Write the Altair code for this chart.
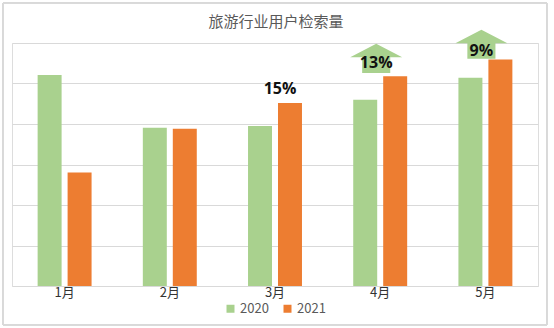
import altair as alt
import pandas as pd

months = ["1月", "2月", "3月", "4月", "5月"]
v2020 = [5.21, 3.91, 3.95, 4.60, 5.14]
v2021 = [2.80, 3.88, 4.52, 5.18, 5.59]
series = ["2020", "2021"]
colors = ["#A9D18E", "#ED7D31"]
title_text = ["旅游行业用户检索量"]

plain_months = ["3月"]
plain_labels = ["15%"]
plain_y = [4.86]

arrow_months = ["4月", "5月"]
arrow_labels = ["13%", "9%"]
arrow_y = [5.62, 5.97]
arrow_text_y = [5.50, 5.81]

rows = []
for m, a, b in zip(months, v2020, v2021):
    rows.append({"month": m, "series": series[0], "value": a})
    rows.append({"month": m, "series": series[1], "value": b})
bars_df = pd.DataFrame(rows)
plain_df = pd.DataFrame({"month": plain_months, "label": plain_labels, "y": plain_y})
arrow_df = pd.DataFrame({"month": arrow_months, "label": arrow_labels, "y": arrow_y, "ty": arrow_text_y})
title_df = pd.DataFrame({"t": title_text})

FONT = "Noto Sans CJK SC"
W, H = 526, 243
STEP = W / 5

xenc = alt.X("month:N", sort=months, scale=alt.Scale(paddingInner=0, paddingOuter=0),
             axis=alt.Axis(title=None, labelAngle=0, domain=False, ticks=False,
                           labelFontSize=13, labelColor="#333333", labelFont=FONT,
                           labelPadding=0, grid=False))
yscale = alt.Scale(domain=[0, 6], nice=False)

border = alt.Chart(bars_df).mark_rect(fill=None, stroke="#D9D9D9", strokeWidth=1).encode(
    x=alt.value(-9), x2=alt.value(535), y=alt.value(-40), y2=alt.value(282)
)

title = alt.Chart(title_df).mark_text(font=FONT, fontSize=15, color="#595959",
                                      align="center", baseline="middle").encode(
    x=alt.value(W / 2 + 1), y=alt.value(-21), text="t:N"
)

bars = alt.Chart(bars_df).mark_bar().encode(
    x=xenc,
    xOffset=alt.XOffset("series:N", scale=alt.Scale(paddingInner=0.2, paddingOuter=0.855)),
    y=alt.Y("value:Q", scale=yscale,
            axis=alt.Axis(title=None, labels=False, ticks=False, domain=False,
                          values=[0, 1, 2, 3, 4, 5, 6], grid=True,
                          gridColor="#D9D9D9", gridWidth=1)),
    color=alt.Color("series:N", scale=alt.Scale(domain=series, range=colors),
                    legend=alt.Legend(title=None, orient="none", direction="horizontal",
                                      legendX=212, legendY=259, symbolType="square",
                                      symbolSize=64, symbolStrokeWidth=0,
                                      labelFontSize=13, labelColor="#595959", labelFont=FONT,
                                      labelOffset=3, columnPadding=12)),
)

arrow_path = "M0,-0.56 L1,-0.04 L0.54,-0.04 L0.54,0.56 L-0.54,0.56 L-0.54,-0.04 L-1,-0.04 Z"
arrows = alt.Chart(arrow_df).mark_point(shape=arrow_path, filled=True, fill="#A9D18E",
                                        opacity=1, strokeWidth=0, size=2704).encode(
    x=alt.X("month:N", sort=months),
    y=alt.Y("y:Q", scale=yscale),
    xOffset=alt.value(STEP / 2 - 4),
)

arrow_text = alt.Chart(arrow_df).mark_text(font="Open Sans", fontWeight="bold", fontSize=16,
                                           color="#111111", dx=-4).encode(
    x=alt.X("month:N", sort=months),
    y=alt.Y("ty:Q", scale=yscale),
    text="label:N",
)

plain_text = alt.Chart(plain_df).mark_text(font="Open Sans", fontWeight="bold", fontSize=16,
                                           color="#111111", dx=5).encode(
    x=alt.X("month:N", sort=months),
    y=alt.Y("y:Q", scale=yscale),
    text="label:N",
)

chart = alt.layer(border, title, bars, arrows, arrow_text, plain_text).properties(
    width=W, height=H,
    autosize=alt.AutoSizeParams(type="none"),
    padding={"left": 12, "top": 43, "right": 16, "bottom": 42},
).configure_view(stroke=None).configure(background="white")

chart.save("out.html", embed_options={"renderer": "svg", "actions": False})
